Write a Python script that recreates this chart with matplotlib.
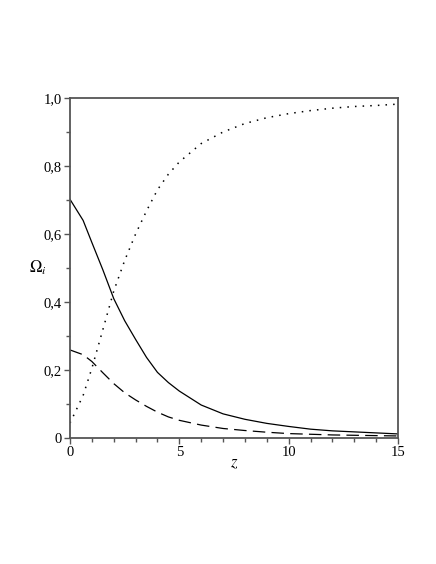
import matplotlib
matplotlib.use("Agg")
import matplotlib.pyplot as plt
from matplotlib.ticker import MultipleLocator, FuncFormatter

# values
z = [0, 0.6, 1, 1.5, 2, 2.5, 3, 3.5, 4, 4.5, 5, 6, 7, 8, 9, 10, 11, 12, 13, 14, 15]
omega_solid = [0.702, 0.640, 0.575, 0.495, 0.410, 0.345, 0.290, 0.237, 0.193, 0.163, 0.138,
               0.097, 0.071, 0.055, 0.043, 0.034, 0.026, 0.021, 0.018, 0.015, 0.012]
omega_dashed = [0.259, 0.245, 0.225, 0.192, 0.160, 0.133, 0.112, 0.093, 0.076, 0.062, 0.052,
                0.038, 0.028, 0.022, 0.017, 0.013, 0.011, 0.009, 0.008, 0.007, 0.006]
omega_dotted = [0.044, 0.125, 0.205, 0.318, 0.432, 0.522, 0.600, 0.668, 0.730, 0.776, 0.812,
                0.866, 0.900, 0.925, 0.942, 0.954, 0.963, 0.970, 0.975, 0.978, 0.982]

plt.rcParams["font.family"] = ["Liberation Serif", "DejaVu Serif"]
plt.rcParams["mathtext.fontset"] = "stix"

fig = plt.figure(figsize=(4.36, 5.64), dpi=100)
ax = fig.add_axes([70 / 436, 1 - 438 / 564, 328 / 436, 340 / 564])

ax.plot(z, omega_solid, color="black", lw=0.9)
ax.plot(z, omega_dashed, color="black", lw=0.9, ls=(0, (10, 5)))
ax.plot(z, omega_dotted, color="black", lw=1.1, ls=(0, (1, 4)))

ax.set_xlim(0, 15)
ax.set_ylim(0, 1.0)
ax.xaxis.set_major_locator(MultipleLocator(5))
ax.xaxis.set_minor_locator(MultipleLocator(1))
ax.yaxis.set_major_locator(MultipleLocator(0.2))
ax.yaxis.set_minor_locator(MultipleLocator(0.1))


def comma(v, pos):
    if abs(v) < 1e-9:
        return "0"
    return f"{v:.1f}".replace(".", ",")


ax.xaxis.set_major_formatter(FuncFormatter(lambda v, p: f"{int(round(v))}"))
ax.yaxis.set_major_formatter(FuncFormatter(comma))

for s in ax.spines.values():
    s.set_color("#555555")
    s.set_linewidth(1.3)
ax.tick_params(which="major", direction="out", length=4, width=1, color="#555555",
               labelsize=10.5, pad=2)
ax.tick_params(which="minor", direction="out", length=3, width=1, color="#555555")

ax.set_xlabel(r"$z$", fontsize=12, labelpad=-3)
ax.set_ylabel(r"$\Omega_i$", fontsize=12, rotation=0, labelpad=4, va="center")

fig.savefig("out.png", dpi=100)
